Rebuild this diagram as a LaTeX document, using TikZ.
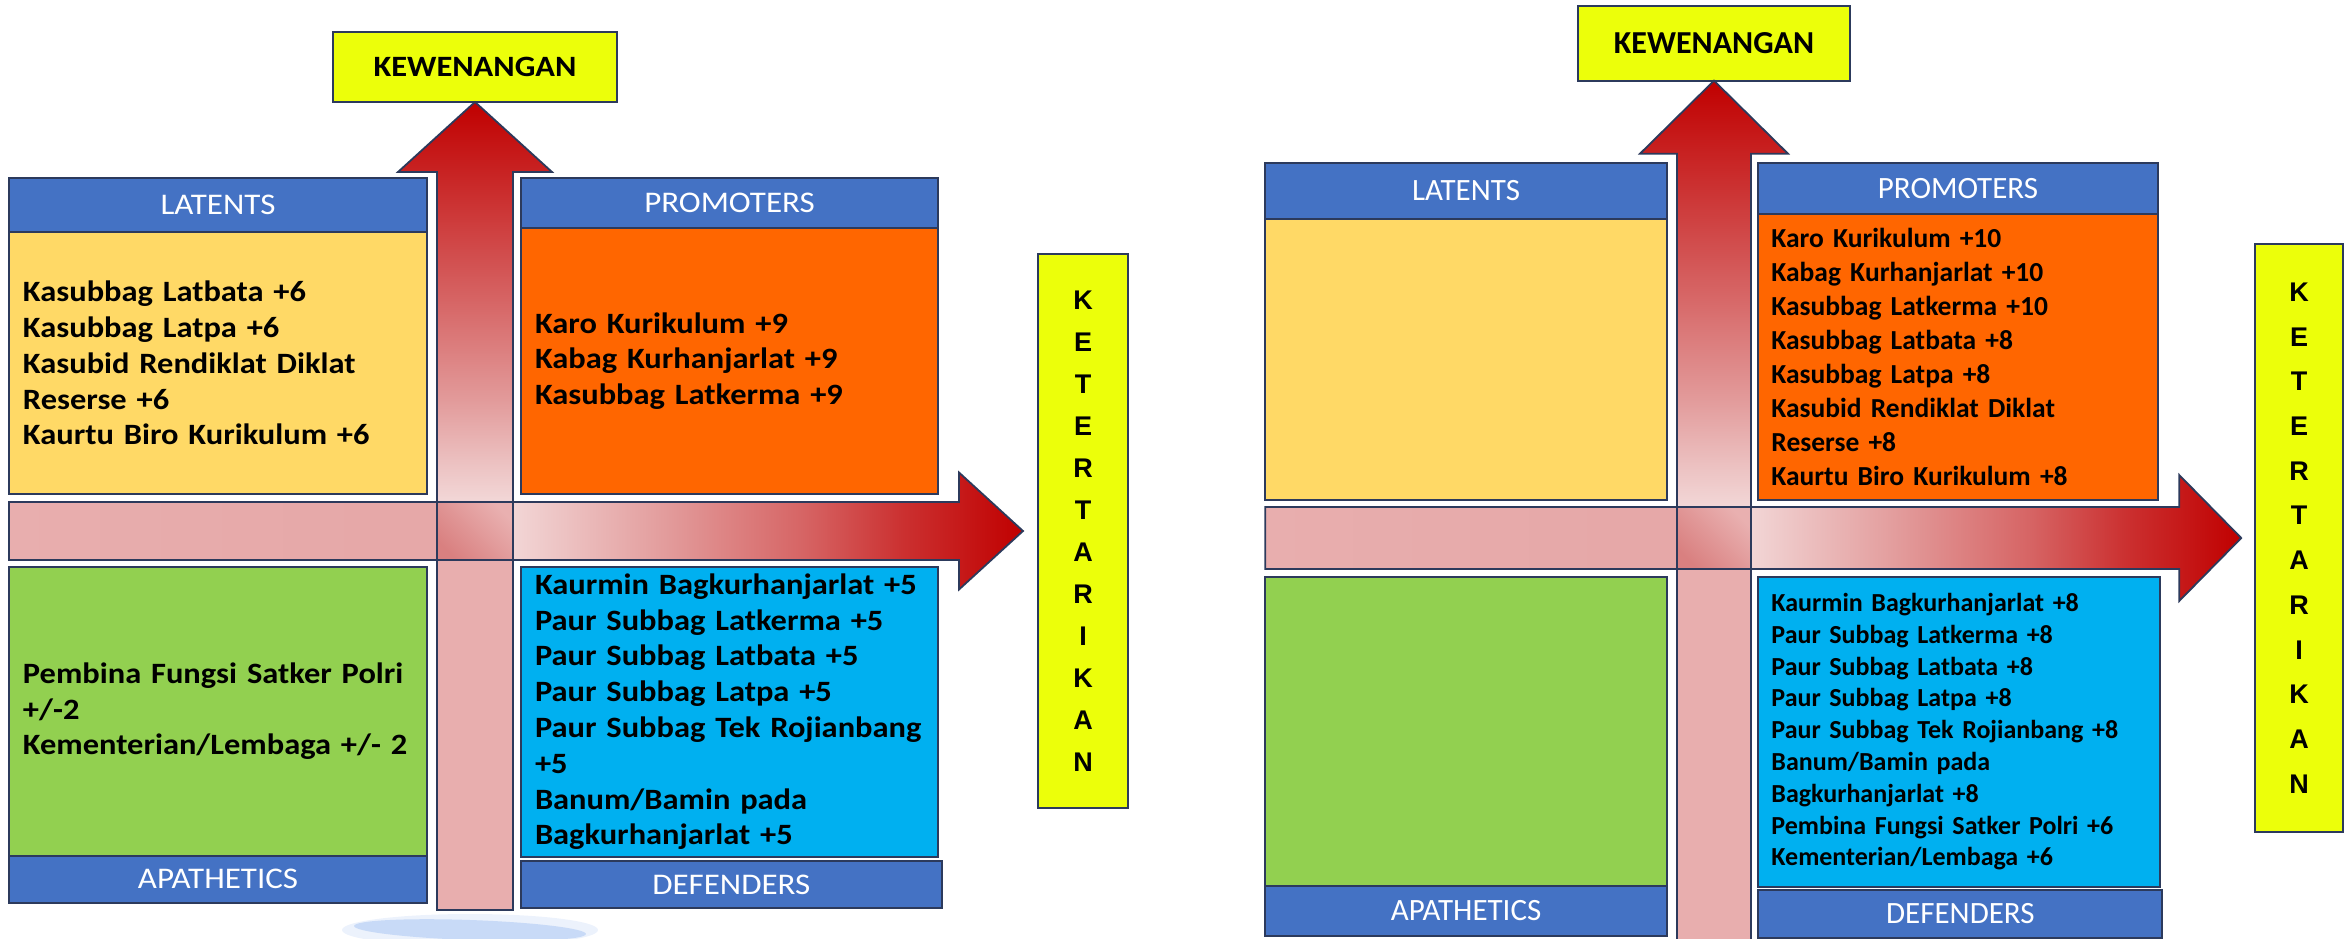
\documentclass[tikz,border=0pt]{standalone}
\usepackage{fontspec}
\setmainfont{Carlito}
\newfontfamily\leftfont[FakeStretch=1.1]{Carlito}
\newfontfamily\ketfont{Liberation Sans}
\usepackage{tikz}
\usetikzlibrary{positioning}
\usetikzlibrary{calc}

\definecolor{hdrblue}{RGB}{68,114,196}
\definecolor{latyel}{RGB}{255,217,102}
\definecolor{proorg}{RGB}{255,102,0}
\definecolor{apagrn}{RGB}{146,208,80}
\definecolor{defcyn}{RGB}{0,176,240}
\definecolor{axyel}{RGB}{236,255,10}
\definecolor{edge}{RGB}{44,58,92}
\definecolor{smudge}{RGB}{200,218,247}
\definecolor{redA}{RGB}{192,0,0}
\definecolor{redB}{RGB}{203,48,48}
\definecolor{redC}{RGB}{214,100,100}
\definecolor{pinkA}{RGB}{226,154,154}
\definecolor{pinkB}{RGB}{237,197,197}
\definecolor{pinkL}{RGB}{242,214,214}
\definecolor{pinkC}{RGB}{232,174,174}
\definecolor{pinkD}{RGB}{230,168,168}
\definecolor{crossdk}{RGB}{217,128,128}
\definecolor{crosslt}{RGB}{233,176,176}

\pgfdeclareverticalshading{upfade}{100bp}{color(0bp)=(pinkC); color(25bp)=(pinkC); color(46.7bp)=(pinkC); color(50.4bp)=(pinkL); color(52.3bp)=(pinkB); color(56.6bp)=(pinkA); color(62.8bp)=(redC); color(69bp)=(redB); color(75bp)=(redA); color(100bp)=(redA)}
\pgfdeclarehorizontalshading{rightfade}{100bp}{color(0bp)=(pinkC); color(25bp)=(pinkC); color(43bp)=(pinkD); color(46.5bp)=(pinkD); color(49.8bp)=(pinkL); color(57.6bp)=(pinkA); color(64.2bp)=(redC); color(69.1bp)=(redB); color(75bp)=(redA); color(100bp)=(redA)}

\tikzset{
    hdr/.style={draw=edge, line width=2pt, fill=hdrblue, text=white, inner sep=0pt, outer sep=0pt},
    cell/.style={draw=edge, line width=2pt, inner ysep=0pt, align=left, outer sep=0pt},
    axbox/.style={draw=edge, line width=2pt, fill=axyel, inner sep=0pt, outer sep=0pt},
    ketbox/.style={axbox, align=center, font=\ketfont\bfseries\fontsize{27pt}{#1}\selectfont},
    lhdr/.style={hdr, font=\leftfont\fontsize{30pt}{36pt}\selectfont},
    rhdr/.style={hdr, font=\fontsize{31pt}{37pt}\selectfont},
    lbody/.style={cell, inner xsep=14pt, font=\leftfont\bfseries\fontsize{29.5pt}{35.8pt}\selectfont},
    rbody/.style 2 args={cell, inner xsep=13pt, font=\bfseries\fontsize{#1}{#2}\selectfont},
    blockarrow/.style={draw=edge, line width=1.8pt, line join=miter},
}

\begin{document}
\begin{tikzpicture}[x=1pt, y=-1pt]
    \useasboundingbox (0,0) rectangle (2348,939);

    \node[axbox, minimum width=283.5pt, minimum height=70pt, font=\leftfont\bfseries\fontsize{29.5pt}{35pt}\selectfont] (kewL) at (475,67) {KEWENANGAN};
    \node[ketbox=42pt, minimum width=90pt, minimum height=554pt] (ketL) at (1083,531) {K\\E\\T\\E\\R\\T\\A\\R\\I\\K\\A\\N};

    \node[lhdr, minimum width=418pt, minimum height=54pt, anchor=north west] (latL) at (9,178) {LATENTS};
    \node[lbody, fill=latyel, below=0pt of latL, text width=390pt, minimum height=262pt] (latbL) {Kasubbag Latbata +6\\Kasubbag Latpa +6\\Kasubid Rendiklat Diklat\\Reserse +6\\Kaurtu Biro Kurikulum +6};
    \node[lhdr, minimum width=417pt, minimum height=50pt, anchor=north west] (proL) at (521,178) {PROMOTERS};
    \node[lbody, fill=proorg, below=0pt of proL, text width=389pt, minimum height=266pt] (probL) {Karo Kurikulum +9\\Kabag Kurhanjarlat +9\\Kasubbag Latkerma +9};

    \node[lbody, fill=apagrn, text width=390pt, minimum height=289pt, anchor=north west] (apabL) at (9,566.7) {Pembina Fungsi Satker Polri\\+/-2\\Kementerian/Lembaga +/- 2};
    \node[lhdr, minimum width=418pt, minimum height=47pt, below=0pt of apabL] (apaL) {APATHETICS};
    \node[lbody, fill=defcyn, text width=389pt, minimum height=290pt, anchor=north west] (defbL) at (521,566.7) {Kaurmin Bagkurhanjarlat +5\\Paur Subbag Latkerma +5\\Paur Subbag Latbata +5\\Paur Subbag Latpa +5\\Paur Subbag Tek Rojianbang\\+5\\Banum/Bamin pada\\Bagkurhanjarlat +5};
    \node[lhdr, minimum width=420.7pt, minimum height=47pt, below=4.7pt of defbL.south west, anchor=north west] (defL) {DEFENDERS};

    \shade[shading=rightfade, blockarrow] ([xshift=-15pt]ketL.west) -- ++(-64,-58.5) -- ++(0,29.5) -- ++(-950,0) coordinate (hL1) -- ++(0,58) coordinate (hL2) -- ++(950,0) -- ++(0,29.5) -- cycle;
    \shade[shading=upfade, blockarrow] (kewL.south) -- ++(77,70) -- ++(-39,0) -- ++(0,738) coordinate (vL2) -- ++(-76,0) coordinate (vL1) -- ++(0,-738) -- ++(-39,0) -- cycle;
    \shade[bottom color=crossdk, top color=crosslt, shading angle=-45, blockarrow] (vL1 |- hL1) rectangle (vL2 |- hL2);

    \fill[smudge!35] (470,930) ellipse [x radius=128pt, y radius=16pt];
    \fill[smudge, rotate around={-2:(470,930)}] (470,930) ellipse [x radius=116pt, y radius=10pt];

    \node[axbox, minimum width=272.3pt, minimum height=75pt, font=\bfseries\fontsize{32pt}{38pt}\selectfont] (kewR) at (1714,43.2) {KEWENANGAN};
    \node[ketbox=44.7pt, minimum width=87.6pt, minimum height=588.3pt] (ketR) at (2299,538) {K\\E\\T\\E\\R\\T\\A\\R\\I\\K\\A\\N};

    \node[rhdr, minimum width=401.3pt, minimum height=56.6pt, anchor=north west] (latR) at (1265.4,162.7) {LATENTS};
    \node[cell, fill=latyel, below=0pt of latR, minimum width=401.3pt, minimum height=280.7pt] (latbR) {};
    \node[rhdr, minimum width=399.2pt, minimum height=51.6pt, anchor=north west] (proR) at (1758.4,162.7) {PROMOTERS};
    \node[rbody={27.5pt}{34pt}, fill=proorg, below=0pt of proR, text width=373.2pt, minimum height=285.7pt] (probR) {Karo Kurikulum +10\\Kabag Kurhanjarlat +10\\Kasubbag Latkerma +10\\Kasubbag Latbata +8\\Kasubbag Latpa +8\\Kasubid Rendiklat Diklat\\Reserse +8\\Kaurtu Biro Kurikulum +8};

    \node[cell, fill=apagrn, minimum width=401.3pt, minimum height=309.3pt, anchor=north west] (apabR) at (1265.4,576.7) {};
    \node[rhdr, minimum width=401.3pt, minimum height=49.7pt, below=0pt of apabR] (apaR) {APATHETICS};
    \node[rbody={26pt}{31.8pt}, fill=defcyn, text width=375.2pt, minimum height=310.3pt, anchor=north west] (defbR) at (1758.4,576.7) {Kaurmin Bagkurhanjarlat +8\\Paur Subbag Latkerma +8\\Paur Subbag Latbata +8\\Paur Subbag Latpa +8\\Paur Subbag Tek Rojianbang +8\\Banum/Bamin pada\\Bagkurhanjarlat +8\\Pembina Fungsi Satker Polri +6\\Kementerian/Lembaga +6};
    \node[rhdr, minimum width=404pt, minimum height=47.5pt, below=3pt of defbR.south west, anchor=north west] (defR) {DEFENDERS};

    \shade[shading=rightfade, blockarrow] ([xshift=-14pt]ketR.west) -- ++(-62,-63) -- ++(0,32) -- ++(-914,0) coordinate (hR1) -- ++(0,62) coordinate (hR2) -- ++(914,0) -- ++(0,32) -- cycle;
    \shade[shading=upfade, blockarrow] (kewR.south) -- ++(74,73) -- ++(-37,0) -- ++(0,790) coordinate (vR2) -- ++(-74,0) coordinate (vR1) -- ++(0,-790) -- ++(-37,0) -- cycle;
    \shade[bottom color=crossdk, top color=crosslt, shading angle=-45, blockarrow] (vR1 |- hR1) rectangle (vR2 |- hR2);
\end{tikzpicture}
\end{document}
